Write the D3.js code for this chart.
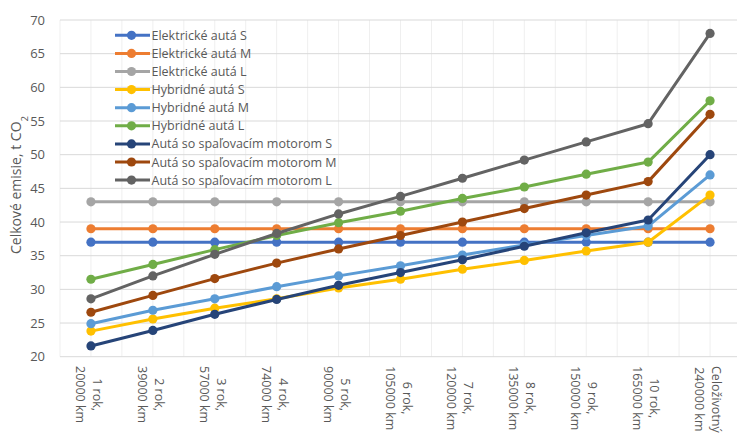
<!DOCTYPE html>
<html>
<head>
<meta charset="utf-8">
<script src="https://cdn.jsdelivr.net/npm/d3@7"></script>
<style>
  html, body { margin: 0; padding: 0; background: #fff; }
  svg { display: block; font-family: "Open Sans", sans-serif; }
</style>
</head>
<body>
<svg id="chart" width="737" height="434"></svg>
<script>
// Category labels (two lines each)
const yearLabels = ["1 rok,", "2 rok,", "3 rok,", "4 rok,", "5 rok,", "6 rok,", "7 rok,", "8 rok,", "9 rok,", "10 rok,", "Celoživotný"];
const kmLabels = ["20000 km", "39000 km", "57000 km", "74000 km", "90000 km", "105000 km", "120000 km", "135000 km", "150000 km", "165000 km", "240000 km"];

// Y axis ticks
const yTicks = [20, 25, 30, 35, 40, 45, 50, 55, 60, 65, 70];

// Series names and values (t CO2)
const seriesNames = [
  "Elektrické autá S", "Elektrické autá M", "Elektrické autá L",
  "Hybridné autá S", "Hybridné autá M", "Hybridné autá L",
  "Autá so spaľovacím motorom S", "Autá so spaľovacím motorom M", "Autá so spaľovacím motorom L"
];
const elektrickeS = [37, 37, 37, 37, 37, 37, 37, 37, 37, 37, 37];
const elektrickeM = [39, 39, 39, 39, 39, 39, 39, 39, 39, 39, 39];
const elektrickeL = [43, 43, 43, 43, 43, 43, 43, 43, 43, 43, 43];
const hybridneS = [23.8, 25.6, 27.2, 28.6, 30.2, 31.5, 33.0, 34.3, 35.7, 37.0, 44.0];
const hybridneM = [24.9, 26.9, 28.6, 30.4, 32.0, 33.5, 35.1, 36.6, 38.0, 39.4, 47.0];
const hybridneL = [31.5, 33.7, 35.9, 38.0, 39.9, 41.6, 43.5, 45.2, 47.1, 48.9, 58.0];
const spalovacieS = [21.6, 23.9, 26.3, 28.5, 30.6, 32.5, 34.4, 36.4, 38.4, 40.3, 50.0];
const spalovacieM = [26.6, 29.1, 31.6, 33.9, 36.0, 38.0, 40.0, 42.0, 44.0, 46.0, 56.0];
const spalovacieL = [28.6, 32.0, 35.2, 38.3, 41.2, 43.8, 46.5, 49.2, 51.9, 54.6, 68.0];
const seriesColors = ["#4472C4", "#ED7D31", "#A5A5A5", "#FFC000", "#5B9BD5", "#70AD47", "#264478", "#9E480E", "#636363"];

const seriesValues = [elektrickeS, elektrickeM, elektrickeL, hybridneS, hybridneM, hybridneL, spalovacieS, spalovacieM, spalovacieL];
const series = seriesNames.map((name, i) => ({ name, values: seriesValues[i], color: seriesColors[i] }));

const svg = d3.select("#chart");
const plot = { left: 60, right: 741, top: 20, bottom: 356.7 };

const x = d3.scaleBand().domain(d3.range(yearLabels.length)).range([plot.left, plot.right]).padding(0);
const y = d3.scaleLinear().domain([20, 70]).range([plot.bottom, plot.top]);
const bw = x.bandwidth();
const cx = i => x(i) + bw / 2;

// Vertical gridlines at category edges and centres
const vLines = [];
d3.range(yearLabels.length).forEach(i => { vLines.push(x(i)); vLines.push(x(i) + bw / 2); });
vLines.push(plot.right);
svg.append("g").selectAll("line").data(vLines).join("line")
  .attr("x1", d => d).attr("x2", d => d)
  .attr("y1", plot.top).attr("y2", plot.bottom)
  .attr("stroke", "#efefef").attr("stroke-width", 1);

// Horizontal gridlines
svg.append("g").selectAll("line").data(yTicks).join("line")
  .attr("x1", plot.left).attr("x2", plot.right)
  .attr("y1", d => y(d)).attr("y2", d => y(d))
  .attr("stroke", "#d9d9d9").attr("stroke-width", 1);

// Y tick labels
const yAxis = d3.axisLeft(y).tickValues(yTicks).tickSize(0).tickPadding(0);
const yg = svg.append("g").attr("transform", `translate(${plot.left - 15},0)`).call(yAxis);
yg.select(".domain").remove();
yg.selectAll("text").attr("fill", "#595959").style("font-size", "13px").style("font-family", "Open Sans, sans-serif");

// Y axis title
const yTitle = svg.append("text")
  .attr("transform", "translate(21,185) rotate(-90)")
  .attr("text-anchor", "middle")
  .attr("fill", "#595959")
  .style("font-size", "14px");
yTitle.append("tspan").text("Celkové emisie, t CO");
yTitle.append("tspan").attr("baseline-shift", "sub").style("font-size", "9.5px").text("2");

// X category labels, rotated and centred line by line
const xl = svg.append("g").selectAll("g").data(d3.range(yearLabels.length)).join("g")
  .attr("transform", i => `translate(${cx(i)},366) rotate(90)`)
  .attr("fill", "#595959")
  .style("font-size", "12.5px");
xl.each(function(i) {
  const g = d3.select(this);
  const t1 = g.append("text").attr("y", -6.5).attr("dominant-baseline", "central").attr("text-anchor", "middle").text(yearLabels[i]);
  const t2 = g.append("text").attr("y", 10.5).attr("dominant-baseline", "central").attr("text-anchor", "middle").text(kmLabels[i]);
  const L = Math.max(t1.node().getComputedTextLength(), t2.node().getComputedTextLength());
  t1.attr("x", L / 2);
  t2.attr("x", L / 2);
});

// Series lines with markers
const line = d3.line().x((d, i) => cx(i)).y(d => y(d));
const sg = svg.append("g").selectAll("g").data(series).join("g");
sg.append("path")
  .attr("d", d => line(d.values))
  .attr("fill", "none")
  .attr("stroke", d => d.color)
  .attr("stroke-width", 3)
  .attr("stroke-linejoin", "round");
sg.each(function(s) {
  d3.select(this).selectAll("circle").data(s.values).join("circle")
    .attr("cx", (d, i) => cx(i))
    .attr("cy", d => y(d))
    .attr("r", 4.6)
    .attr("fill", s.color);
});

// Legend
const lg = svg.append("g").selectAll("g").data(series).join("g")
  .attr("transform", (d, i) => `translate(0,${35.3 + i * 18.1})`);
lg.append("line").attr("x1", 115).attr("x2", 150).attr("y1", 0).attr("y2", 0)
  .attr("stroke", d => d.color).attr("stroke-width", 3);
lg.append("circle").attr("cx", 131.5).attr("cy", 0).attr("r", 4.6).attr("fill", d => d.color);
lg.append("text").attr("x", 151.5).attr("y", 0).attr("dominant-baseline", "central")
  .attr("fill", "#595959").style("font-size", "12.5px").text(d => d.name);
</script>
</body>
</html>
